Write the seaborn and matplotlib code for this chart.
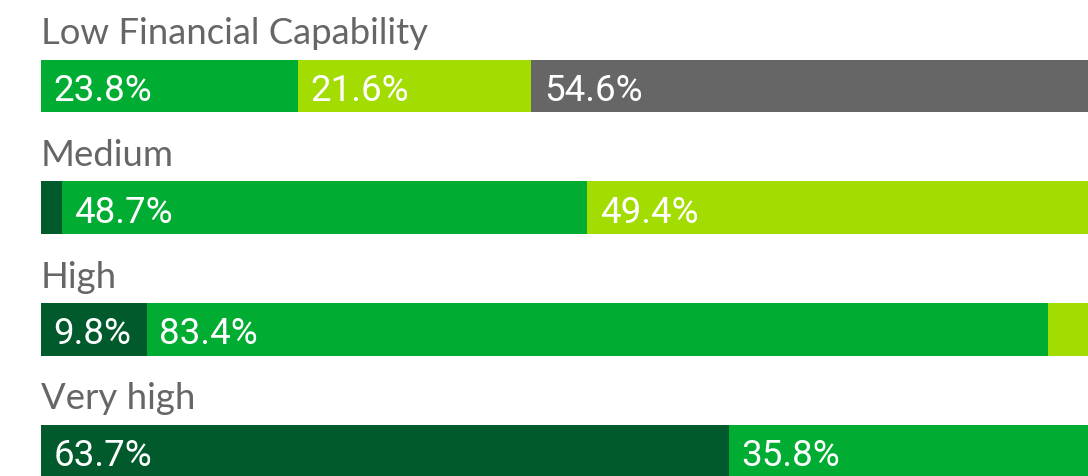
import numpy as np
import pandas as pd
import seaborn as sns
import matplotlib.pyplot as plt

# Data
groups = ["Low Financial Capability", "Medium", "High", "Very high"]
seg_dark = [0.0, 1.9, 9.8, 63.7]
seg_green = [23.8, 48.7, 83.4, 35.8]
seg_light = [21.6, 49.4, 6.8, 0.5]
seg_gray = [54.6, 0.0, 0.0, 0.0]

colors = ["#005a2b", "#00ac31", "#a2dc00", "#666666"]


def main():
    sns.set_style("white")
    segs = np.array([seg_dark, seg_green, seg_light, seg_gray])
    cum = segs.cumsum(axis=0)

    fig = plt.figure(figsize=(10.88, 4.77), dpi=100)
    # axis spans past the right edge, the reference is cropped there
    ax = fig.add_axes([41 / 1088, 0, 1080 / 1088, 1])

    # stacked bars: draw cumulative totals from longest to shortest
    for k in range(3, -1, -1):
        df = pd.DataFrame({"group": groups, "value": cum[k]})
        sns.barplot(data=df, y="group", x="value", orient="h", color=colors[k],
                    saturation=1, width=0.435, ax=ax, linewidth=0)

    ax.set_xlim(0, 100)
    ax.set_ylim(3.205, -0.715)
    ax.axis("off")

    for i, name in enumerate(groups):
        ax.text(0, i - 0.352, name, ha="left", va="baseline", fontsize=26.3,
                color="#666666", family=["Lato", "DejaVu Sans"])
        starts = cum[:, i] - segs[:, i]
        for k in range(4):
            if segs[k, i] >= 9:
                ax.text(starts[k] + 1.15, i, f"{segs[k, i]:.1f}%", ha="left",
                        va="center_baseline", fontsize=26.5, color="white",
                        family=["Roboto", "DejaVu Sans"])

    fig.savefig("out.png", dpi=100)


if __name__ == "__main__":
    main()
